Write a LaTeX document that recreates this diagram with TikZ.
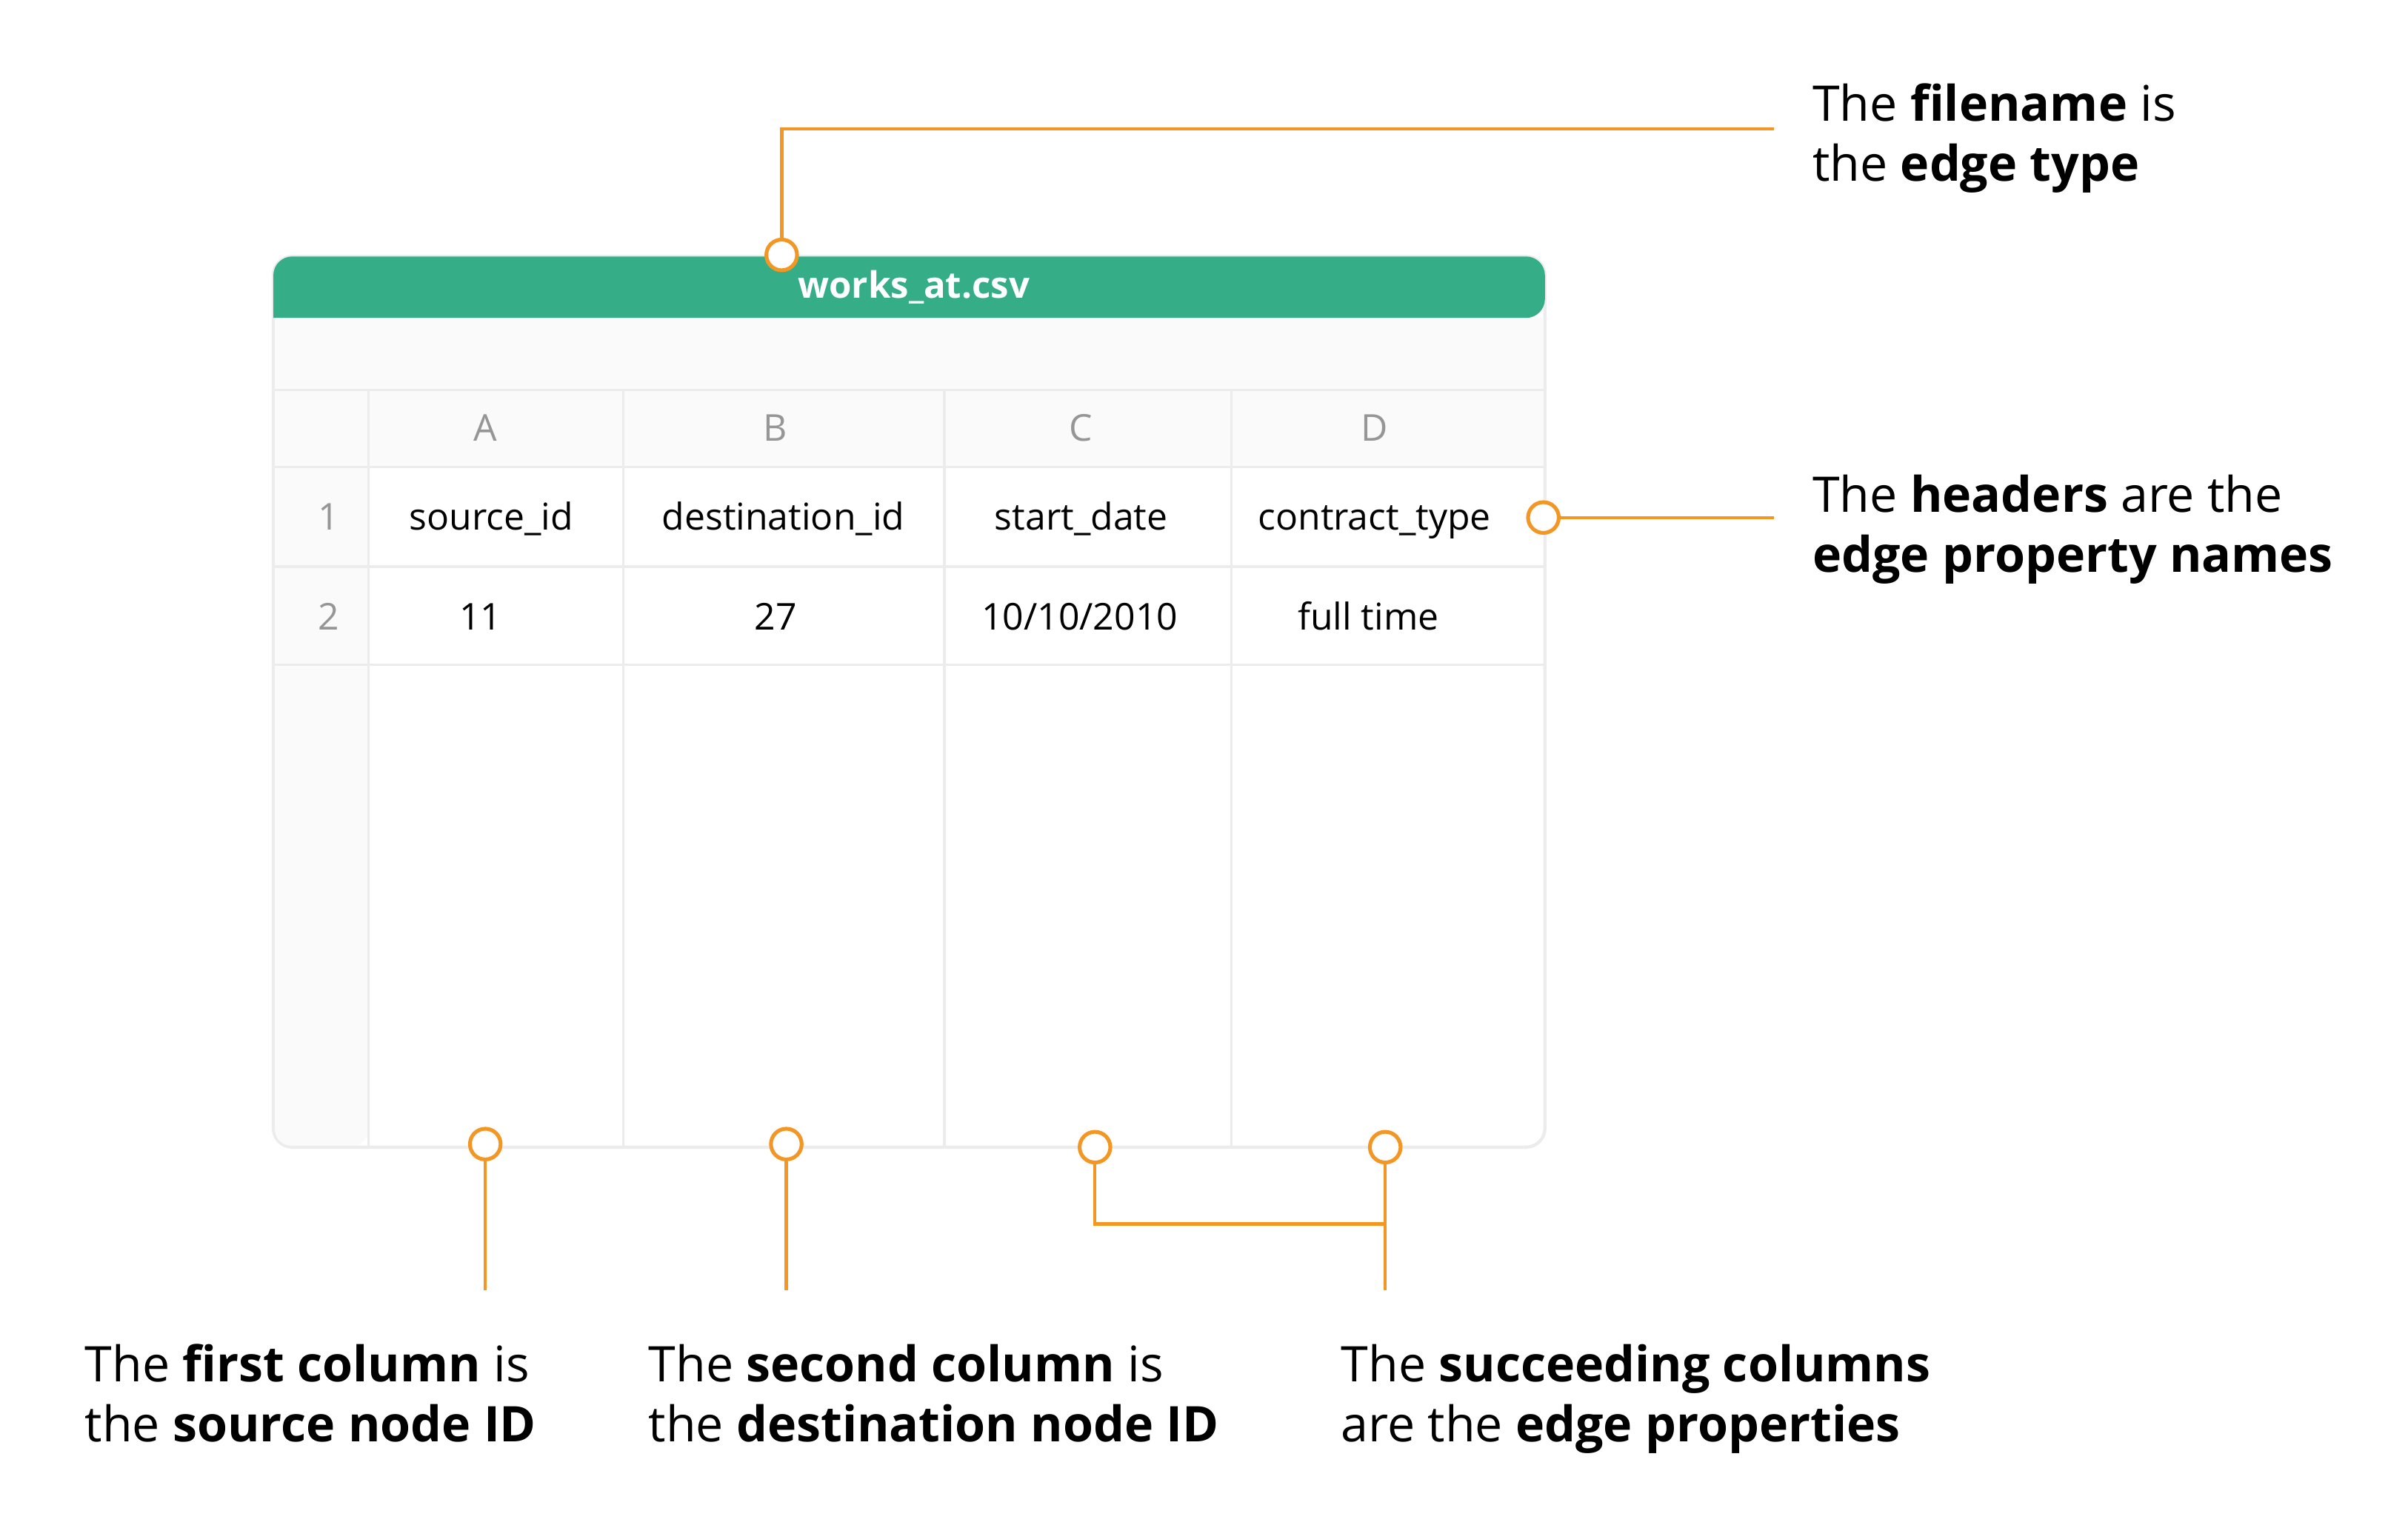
\documentclass[tikz,border=0pt]{standalone}
\usepackage{fontspec}
\setmainfont{Open Sans}
\usetikzlibrary{positioning}

\definecolor{csvgreen}{RGB}{53,173,135}
\definecolor{leadorange}{RGB}{243,150,35}
\definecolor{gridgray}{RGB}{236,236,236}
\definecolor{bandgray}{RGB}{250,250,250}
\definecolor{idgray}{RGB}{150,150,150}

\begin{document}
\begin{tikzpicture}[
    x=0.02cm, y=-0.02cm,
    every node/.style={font=\fontsize{13.7}{16}\selectfont},
    cell/.style={inner sep=0pt, anchor=base},
    idcell/.style={cell, text=idgray},
    note/.style={inner sep=0pt, anchor=north west, align=left, font=\fontsize{18.2}{22.2}\selectfont},
    dot/.style={circle, draw=leadorange, fill=white, line width=1.4pt, minimum size=0.4cm, inner sep=0pt},
    lead/.style={draw=leadorange, line width=1.2pt},
    grid/.style={draw=gridgray, line width=0.9pt}
]
\useasboundingbox (0,0) rectangle (1568,995);

% TABLE
\draw[gridgray, line width=1.2pt, fill=white, rounded corners=7pt] (178,167) rectangle (1006,747);
\fill[bandgray] (179,207) rectangle (1005,304);
\fill[bandgray] (179,304) [rounded corners=6pt] |- (240,746) [sharp corners] -- (240,304) -- cycle;
\foreach \y in {254,304,369,433}
    \draw[grid] (178,\y) -- (1006,\y);
\foreach \x in {240,406,615,802}
    \draw[grid] (\x,254) -- (\x,747);
\fill[csvgreen] (178,207) [rounded corners=7pt] |- (592,167) -| (1006,207) [sharp corners] -- cycle;
\node[cell, text=white, font=\fontsize{13.5}{16}\selectfont\bfseries] (fname) at (595,194) {works\_at.csv};

% COLUMNS AND ROWS
\foreach \x/\l in {316/A,505/B,704/C,895/D}
    \node[idcell] (col-\l) at (\x,287) {\l};
\node[idcell] (row-1) at (214,345) {1};
\node[idcell] (row-2) at (214,410) {2};

\node[cell] (src-head) at (320,345) {source\_id};
\node[cell] (dst-head) at (510,345) {destination\_id};
\node[cell] (date-head) at (704,345) {start\_date};
\node[cell] (type-head) at (895,345) {contract\_type};
\node[cell] (src-val) at (313,410) {11};
\node[cell] (dst-val) at (505,410) {27};
\node[cell] (date-val) at (703,410) {10/10/2010};
\node[cell] (type-val) at (891,410) {full time};

% NOTES
\node[note] (file-note) at (1180,54) {The \textbf{filename} is\\the \textbf{edge type}};
\node[note] (head-note) at (1180,309) {The \textbf{headers} are the\\\textbf{edge property names}};
\node[note] (src-note) at (55,875) {The \textbf{first column} is\\the \textbf{source node ID}};
\node[note] (dst-note) at (422,875) {The \textbf{second column} is\\the \textbf{destination node ID}};
\node[note] (prop-note) at (873,875) {The \textbf{succeeding columns}\\are the \textbf{edge properties}};

% DOTS
\node[dot] (file-dot) at (509,166) {};
\node[dot] (head-dot) at (1005,337) {};
\node[dot] (src-dot) at (316,745) {};
\node[dot] (dst-dot) at (512,745) {};
\node[dot] (date-dot) at (713,747) {};
\node[dot] (type-dot) at (902,747) {};

\coordinate (file-end) at (1155,84);
\coordinate (head-end) at (1155,337);
\coordinate (src-end) at (316,840);
\coordinate (dst-end) at (512,840);
\coordinate (prop-join) at (902,797);
\coordinate (prop-end) at (902,840);

% LEADS
\draw[lead] (file-dot) |- (file-end);
\draw[lead] (head-dot) -- (head-end);
\draw[lead] (src-dot) -- (src-end);
\draw[lead] (dst-dot) -- (dst-end);
\draw[lead] (date-dot) |- (prop-join);
\draw[lead] (type-dot) -- (prop-end);

\end{tikzpicture}
\end{document}
